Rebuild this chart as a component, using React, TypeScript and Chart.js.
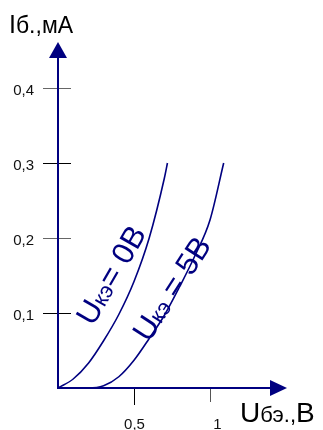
import React, { useEffect, useRef } from "react";
import { Chart, registerables } from "chart.js";

Chart.register(...registerables);

// ---- data ----
const curve1X = [0, 0.1, 0.2, 0.3, 0.4, 0.5, 0.6, 0.7, 0.72];
const curve1Y = [0, 0.012, 0.033, 0.063, 0.098, 0.142, 0.2, 0.28, 0.3];
const curve2X = [0, 0.2, 0.3, 0.4, 0.5, 0.6, 0.7, 0.8, 0.9, 1.0, 1.09];
const curve2Y = [0, 0, 0.003, 0.015, 0.037, 0.066, 0.097, 0.135, 0.176, 0.224, 0.3];
const yTickValues = [0.1, 0.2, 0.3, 0.4];
const yTickLabels = ["0,1", "0,2", "0,3", "0,4"];
const xTickValues = [0.5, 1];
const xTickLabels = ["0,5", "1"];
const curveLabel1 = [
  { t: "U", big: true },
  { t: "кэ", big: false },
  { t: "= 0В", big: true },
];
const curveLabel2 = [
  { t: "U", big: true },
  { t: "кэ", big: false },
  { t: " = 5В", big: true },
];
const yAxisTitle = [
  { t: "I", s: 25 },
  { t: "б.,мА", s: 23 },
];
const xAxisTitle = [
  { t: "U", s: 28 },
  { t: "бэ.,", s: 22 },
  { t: "В", s: 28 },
];

const NAVY = "#000080";
const FONT = "'Liberation Sans', Arial, sans-serif";

function drawParts(ctx: CanvasRenderingContext2D, parts: { t: string; s: number }[], x: number, y: number, center: boolean) {
  let total = 0;
  const widths = parts.map((p) => {
    ctx.font = `${p.s}px ${FONT}`;
    const w = ctx.measureText(p.t).width;
    total += w;
    return w;
  });
  let cx = center ? x - total / 2 : x;
  parts.forEach((p, i) => {
    ctx.font = `${p.s}px ${FONT}`;
    ctx.fillText(p.t, cx, y);
    cx += widths[i];
  });
}

const decorPlugin = {
  id: "decor",
  beforeDatasetsDraw(chart: any) {
    const ctx: CanvasRenderingContext2D = chart.ctx;
    const xs = chart.scales.x;
    const ys = chart.scales.y;
    const x0 = xs.getPixelForValue(0);
    const y0 = ys.getPixelForValue(0);
    const ca = chart.chartArea;
    ctx.save();
    // y ticks
    yTickValues.forEach((v, i) => {
      const py = Math.round(ys.getPixelForValue(v)) + 0.5;
      ctx.strokeStyle = i % 2 === 0 ? "#000" : "#666";
      ctx.lineWidth = 1;
      ctx.beginPath();
      ctx.moveTo(x0 - 15, py);
      ctx.lineTo(x0 + 13, py);
      ctx.stroke();
      ctx.fillStyle = "#111";
      ctx.font = `15px ${FONT}`;
      ctx.textAlign = "right";
      ctx.textBaseline = "middle";
      ctx.fillText(yTickLabels[i], x0 - 24, py + 2);
    });
    // x ticks
    xTickValues.forEach((v, i) => {
      const px = Math.round(xs.getPixelForValue(v)) + 0.5;
      ctx.strokeStyle = i === 0 ? "#000" : "#555";
      ctx.lineWidth = 1;
      ctx.beginPath();
      ctx.moveTo(px, y0);
      ctx.lineTo(px, y0 + (i === 0 ? 17 : 14));
      ctx.stroke();
      ctx.fillStyle = "#111";
      ctx.font = `15px ${FONT}`;
      ctx.textAlign = "center";
      ctx.textBaseline = "middle";
      ctx.fillText(xTickLabels[i], px + (i === 0 ? 0 : 7), y0 + 37);
    });
    // axes
    ctx.strokeStyle = NAVY;
    ctx.fillStyle = NAVY;
    ctx.lineWidth = 2;
    const tipY = ca.top - 1;
    const tipX = ca.right + 1;
    ctx.beginPath();
    ctx.moveTo(x0, y0 + 1);
    ctx.lineTo(x0, tipY + 10);
    ctx.moveTo(x0 - 1, y0);
    ctx.lineTo(tipX - 10, y0);
    ctx.stroke();
    ctx.beginPath();
    ctx.moveTo(x0, tipY);
    ctx.lineTo(x0 + 9, tipY + 16);
    ctx.lineTo(x0 - 9, tipY + 16);
    ctx.closePath();
    ctx.fill();
    ctx.beginPath();
    ctx.moveTo(tipX, y0);
    ctx.lineTo(tipX - 17, y0 - 8);
    ctx.lineTo(tipX - 17, y0 + 8);
    ctx.closePath();
    ctx.fill();
    // axis titles
    ctx.fillStyle = "#000";
    ctx.textAlign = "left";
    ctx.textBaseline = "alphabetic";
    drawParts(ctx, yAxisTitle, ca.left - 49, ca.top - 10, false);
    drawParts(ctx, xAxisTitle, ca.right - 46, ca.bottom + 34, false);
    ctx.restore();
  },
  afterDatasetsDraw(chart: any) {
    const ctx: CanvasRenderingContext2D = chart.ctx;
    const xs = chart.scales.x;
    const ys = chart.scales.y;
    const drawLabel = (parts: { t: string; big: boolean }[], vx: number, vy: number, angle: number) => {
      const px = xs.getPixelForValue(vx);
      const py = ys.getPixelForValue(vy);
      ctx.save();
      ctx.translate(px, py);
      ctx.rotate((-angle * Math.PI) / 180);
      ctx.fillStyle = NAVY;
      ctx.textAlign = "left";
      ctx.textBaseline = "alphabetic";
      drawParts(
        ctx,
        parts.map((p) => ({ t: p.t, s: p.big ? 31 : 22 })),
        0,
        11,
        true
      );
      ctx.restore();
    };
    drawLabel(curveLabel1, 0.345, 0.151, 60);
    drawLabel(curveLabel2, 0.745, 0.133, 57);
  },
};

export default function App() {
  const ref = useRef<HTMLCanvasElement | null>(null);
  useEffect(() => {
    if (!ref.current) return;
    const chart = new Chart(ref.current, {
      type: "scatter",
      data: {
        datasets: [
          {
            data: curve1X.map((x, i) => ({ x, y: curve1Y[i] })),
            showLine: true,
            borderColor: NAVY,
            borderWidth: 1.6,
            pointRadius: 0,
            cubicInterpolationMode: "monotone",
          },
          {
            data: curve2X.map((x, i) => ({ x, y: curve2Y[i] })),
            showLine: true,
            borderColor: NAVY,
            borderWidth: 1.6,
            pointRadius: 0,
            cubicInterpolationMode: "monotone",
          },
        ],
      } as any,
      options: {
        animation: false,
        responsive: false,
        devicePixelRatio: 1,
        layout: { padding: { left: 58, right: 37, top: 43, bottom: 42 } },
        plugins: { legend: { display: false }, tooltip: { enabled: false } },
        scales: {
          x: { type: "linear", min: 0, max: 1.5, display: false },
          y: { type: "linear", min: 0, max: 0.46, display: false },
        },
      } as any,
      plugins: [decorPlugin],
    });
    return () => chart.destroy();
  }, []);
  return (
    <div style={{ position: "absolute", left: 0, top: 0, width: 323, height: 430, background: "#fff" }}>
      <canvas ref={ref} width={323} height={430} style={{ width: 323, height: 430, display: "block" }} />
    </div>
  );
}
